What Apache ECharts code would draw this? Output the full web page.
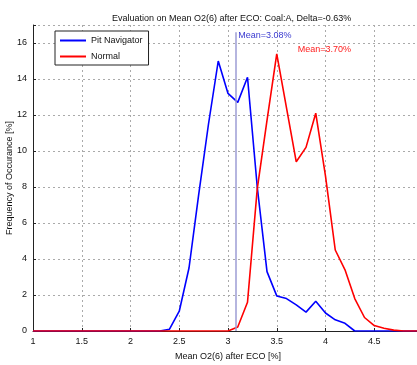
<!DOCTYPE html>
<html>
<head>
<meta charset="utf-8">
<script src="https://cdn.jsdelivr.net/npm/echarts@6/dist/echarts.min.js"></script>
<style>
html, body { margin: 0; padding: 0; background: #fff; }
#main { width: 417px; height: 365px; }
</style>
</head>
<body>
<div id="main"></div>
<script>
// values
var pitX = [1.0, 2.3, 2.4, 2.5, 2.6, 2.7, 2.8, 2.9, 3.0, 3.1, 3.2, 3.3, 3.4, 3.5, 3.6, 3.7, 3.8, 3.9, 4.0, 4.1, 4.2, 4.3, 5.0];
var pitY = [0, 0, 0.1, 1.1, 3.5, 7.6, 11.5, 15.0, 13.2, 12.7, 14.1, 8.0, 3.3, 1.95, 1.8, 1.45, 1.05, 1.65, 1.0, 0.62, 0.43, 0, 0];

var normalX = [1.0, 3.0, 3.1, 3.2, 3.3, 3.4, 3.5, 3.6, 3.7, 3.8, 3.9, 4.0, 4.1, 4.2, 4.3, 4.4, 4.5, 4.6, 4.7, 4.8, 5.0];
var normalY = [0, 0, 0.22, 1.6, 7.9, 11.7, 15.4, 12.4, 9.4, 10.2, 12.1, 8.6, 4.5, 3.4, 1.8, 0.75, 0.3, 0.15, 0.05, 0, 0];

var pitMean = 3.08;
var normalMean = 3.70;

function pairs(xs, ys) {
	var out = [];
	for (var i = 0; i < xs.length; i++) out.push([xs[i], ys[i]]);
	return out;
}

var myChart = echarts.init(document.getElementById('main'));
var font = 'Liberation Sans, Arial, sans-serif';

var option = {
	animation: false,
	textStyle: { fontFamily: font },
	title: {
		text: 'Evaluation on Mean O2(6) after ECO: Coal:A, Delta=-0.63%',
		left: 107,
		top: 9,
		textStyle: { fontSize: 9, fontWeight: 'normal', color: '#111', fontFamily: font }
	},
	legend: {
		orient: 'vertical',
		left: 55,
		top: 31,
		icon: 'rect',
		itemWidth: 26,
		itemHeight: 2,
		itemGap: 7,
		padding: [5, 6, 4, 5],
		borderColor: '#222',
		borderWidth: 1,
		backgroundColor: '#fff',
		textStyle: { fontSize: 9, color: '#111', fontFamily: font },
		data: ['Pit Navigator', 'Normal']
	},
	grid: {
		left: 33,
		right: -6,
		top: 25,
		bottom: 34,
		containLabel: false,
		outerBoundsMode: 'none'
	},
	xAxis: {
		type: 'value',
		min: 1,
		max: 5,
		interval: 0.5,
		name: 'Mean O2(6) after ECO [%]',
		nameLocation: 'middle',
		nameGap: 21,
		nameMoveOverlap: false,
		nameTextStyle: { fontSize: 9, color: '#111' },
		axisLine: { lineStyle: { color: '#222', width: 1 } },
		axisTick: { inside: true, length: 3, lineStyle: { color: '#222' } },
		axisLabel: { fontSize: 9, color: '#111', margin: 6 },
		splitLine: { show: true, lineStyle: { color: '#aaa', type: [2, 3], width: 1 } }
	},
	yAxis: {
		type: 'value',
		min: 0,
		max: 17,
		interval: 2,
		name: 'Frequency of Occurance [%]',
		nameLocation: 'middle',
		nameGap: 19,
		nameMoveOverlap: false,
		nameTextStyle: { fontSize: 9, color: '#111' },
		axisLine: { show: true, lineStyle: { color: '#222', width: 1 } },
		axisTick: { show: true, inside: true, length: 3, lineStyle: { color: '#222' } },
		axisLabel: {
			fontSize: 9, color: '#111', margin: 6,
			formatter: function (v) { return v % 2 === 0 ? v : ''; }
		},
		splitLine: { show: true, lineStyle: { color: '#aaa', type: [2, 3], width: 1 } }
	},
	series: [
		{
			name: 'Pit Navigator',
			type: 'line',
			symbol: 'none',
			color: '#0000ff',
			lineStyle: { color: '#0000ff', width: 1.6 },
			data: pairs(pitX, pitY),
			z: 3,
			markLine: {
				silent: true,
				symbol: 'none',
				label: { show: false },
				lineStyle: { color: '#9c9cd4', type: 'solid', width: 1.5 },
				data: [[{ coord: [pitMean, 0] }, { coord: [pitMean, 16.6] }]]
			},
			markPoint: {
				symbol: 'circle',
				symbolSize: 1,
				itemStyle: { color: 'rgba(0,0,0,0)' },
				label: {
					show: true, position: 'right', distance: 2,
					formatter: 'Mean=' + pitMean.toFixed(2) + '%',
					fontSize: 9, color: '#3a3ad0', fontFamily: font
				},
				data: [{ coord: [pitMean, 16.4] }]
			}
		},
		{
			name: 'Normal',
			type: 'line',
			symbol: 'none',
			color: '#ff0000',
			lineStyle: { color: '#ff0000', width: 1.6 },
			data: pairs(normalX, normalY),
			z: 4,
			markPoint: {
				symbol: 'circle',
				symbolSize: 1,
				itemStyle: { color: 'rgba(0,0,0,0)' },
				label: {
					show: true, position: 'right', distance: 1,
					formatter: 'Mean=' + normalMean.toFixed(2) + '%',
					fontSize: 9, color: '#ff2020', fontFamily: font
				},
				data: [{ coord: [normalMean, 15.65] }]
			}
		}
	]
};

myChart.setOption(option, true);
window.onresize = myChart.resize;
</script>
</body>
</html>
